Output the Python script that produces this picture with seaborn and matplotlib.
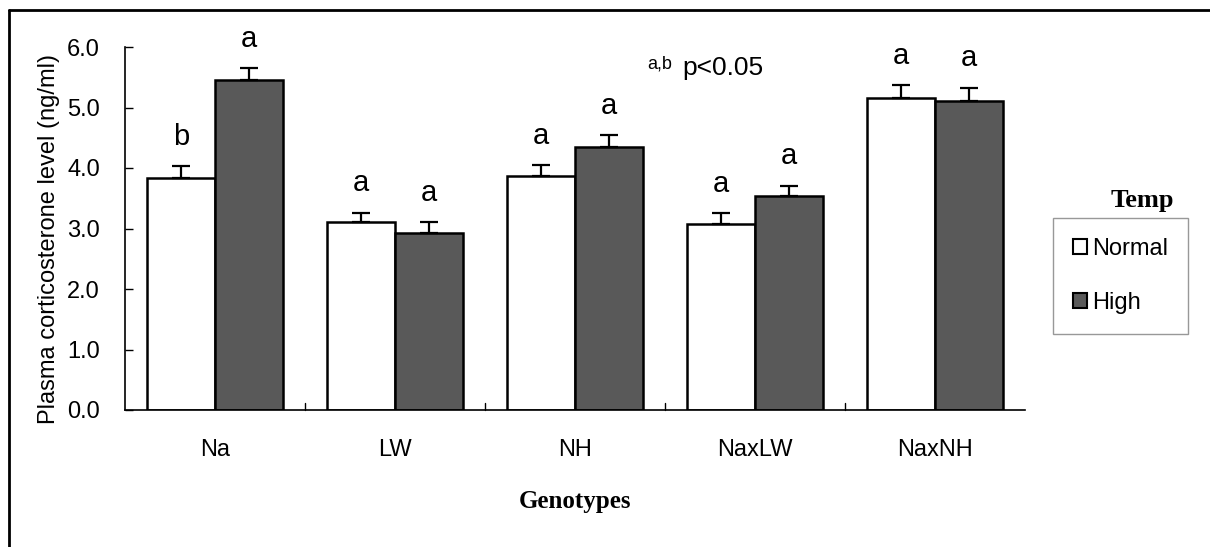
import matplotlib
matplotlib.use("Agg")
import matplotlib.pyplot as plt
from matplotlib.lines import Line2D
from matplotlib.patches import Patch
import pandas as pd
import seaborn as sns

# Values
genotypes = ["Na", "LW", "NH", "NaxLW", "NaxNH"]
temps = ["Normal", "High"]
normal_mean = [3.83, 3.11, 3.87, 3.07, 5.15]
high_mean = [5.45, 2.93, 4.35, 3.53, 5.10]
normal_err = [0.20, 0.15, 0.18, 0.18, 0.22]
high_err = [0.20, 0.17, 0.19, 0.18, 0.23]
normal_letters = ["b", "a", "a", "a", "a"]
high_letters = ["a", "a", "a", "a", "a"]

df = pd.DataFrame({
    "Genotype": genotypes * 2,
    "Temp": ["Normal"] * 5 + ["High"] * 5,
    "level": normal_mean + high_mean,
})

sns.set_style("white")
plt.rcParams["font.family"] = ["Liberation Sans", "DejaVu Sans"]
plt.rcParams["text.color"] = "black"
plt.rcParams["axes.labelcolor"] = "black"
plt.rcParams["xtick.color"] = "black"
plt.rcParams["ytick.color"] = "black"

fig = plt.figure(figsize=(12.1, 5.47), dpi=100)
ax = fig.add_axes([125 / 1210, 1 - 410 / 547, 900 / 1210, 363 / 547])

sns.barplot(data=df, x="Genotype", y="level", hue="Temp", order=genotypes,
            hue_order=temps, palette={"Normal": "white", "High": "#595959"},
            edgecolor="black", linewidth=1.8, width=0.76, errorbar=None,
            legend=False, ax=ax)

# error bars (upper only) and significance letters
bars = ax.patches
errs = normal_err + high_err
letters = normal_letters + high_letters
means = normal_mean + high_mean
for bar, m, e, lt in zip(bars[:10], means, errs, letters):
    x = bar.get_x() + bar.get_width() / 2
    ax.errorbar(x, m, yerr=[[0], [e]], fmt="none", ecolor="black",
                elinewidth=1.6, capsize=6.5, capthick=1.6)
    ax.annotate(lt, (x, m + e), xytext=(0, 11), textcoords="offset points",
                ha="center", va="bottom", fontsize=21)

ax.set_ylim(0, 6.0)
ax.set_xlim(-0.5, 4.5)
ax.set_yticks([0, 1, 2, 3, 4, 5, 6])
ax.set_yticklabels([f"{v:.1f}" for v in range(7)], fontsize=17)
ax.tick_params(axis="y", direction="in", length=6, width=1, pad=18, left=True)
ax.set_xticks(range(5))
ax.set_xticklabels(genotypes, fontsize=17)
ax.tick_params(axis="x", length=0, pad=21)
for b in [0.5, 1.5, 2.5, 3.5]:
    ax.plot([b, b], [0, 0.12], color="black", lw=1, clip_on=False)

sns.despine(ax=ax, top=True, right=True)
for s in ["left", "bottom"]:
    ax.spines[s].set_color("black")
    ax.spines[s].set_linewidth(1.2)

ax.set_ylabel("Plasma corticosterone level (ng/ml)", fontsize=17)
ax.yaxis.set_label_coords(-0.072, 0.47)
ax.set_xlabel("Genotypes", fontsize=18, fontweight="bold",
              family=["Liberation Serif"], labelpad=21)

# p-value note
ax.text(0.58, 0.93, "a,b", transform=ax.transAxes, fontsize=13, va="bottom")
ax.text(0.619, 0.91, "p<0.05", transform=ax.transAxes, fontsize=19, va="bottom")

# legend
handles = [Patch(facecolor="white", edgecolor="black", lw=1.5),
           Patch(facecolor="#595959", edgecolor="black", lw=1.5)]
leg = fig.legend(handles, temps, loc="upper left",
                 bbox_to_anchor=(1053 / 1210, 1 - 218 / 547), fontsize=17,
                 frameon=True, fancybox=False, handlelength=0.6,
                 handleheight=0.6, handletextpad=0.2, labelspacing=1.35,
                 borderpad=0.85, borderaxespad=0)
leg.get_frame().set_edgecolor("#7f7f7f")
leg.get_frame().set_linewidth(1)
leg._legend_box.align = "left"
fig.canvas.draw()
bb = leg.get_frame().get_bbox()
leg.get_frame().set_width(148)
fig.text(1142 / 1210, 1 - 200 / 547, "Temp", ha="center", va="center",
         fontsize=19, fontweight="bold", family=["Liberation Serif"])

# figure border (top and left)
fig.add_artist(Line2D([9 / 1210, 9 / 1210], [0, 1 - 10 / 547], color="black", lw=2))
fig.add_artist(Line2D([9 / 1210, 1], [1 - 10 / 547, 1 - 10 / 547], color="black", lw=2))

fig.savefig("out.png", dpi=100)
